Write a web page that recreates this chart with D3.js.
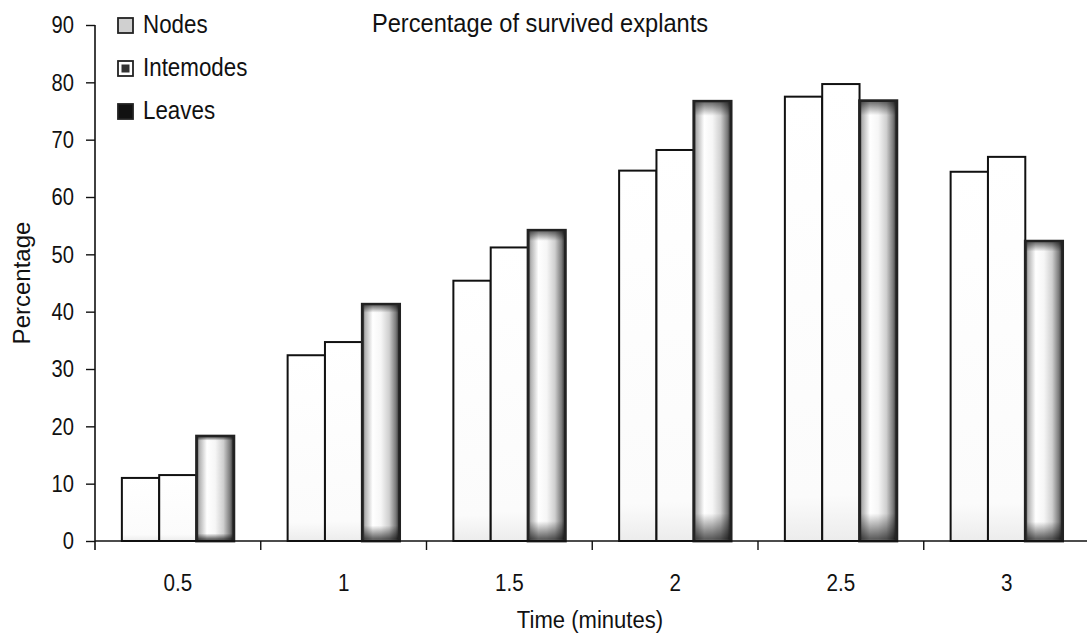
<!DOCTYPE html>
<html>
<head>
<meta charset="utf-8">
<script src="https://cdn.jsdelivr.net/npm/d3@7"></script>
<style>
  html, body { margin: 0; padding: 0; background: #fff; }
  svg { display: block; }
  text { font-family: "Liberation Sans", Arial, sans-serif; fill: #111; }
</style>
</head>
<body>
<svg id="chart" width="1087" height="638"></svg>
<script>
// ---- data ----
const categories = ["0.5", "1", "1.5", "2", "2.5", "3"];
const seriesNames = ["Nodes", "Internodes", "Leaves"];
const nodes      = [11.0, 32.4, 45.4, 64.6, 77.5, 64.4];
const internodes = [11.5, 34.7, 51.2, 68.2, 79.7, 67.0];
const leaves     = [18.3, 41.3, 54.2, 76.7, 76.8, 52.3];
const yTicks = [0, 10, 20, 30, 40, 50, 60, 70, 80, 90];
const titleText = "Percentage of survived explants";
const xTitle = "Time (minutes)";
const yTitle = "Percentage";
const legendLabels = ["Nodes", "Intemodes", "Leaves"];

const seriesValues = [nodes, internodes, leaves];

// ---- layout ----
const W = 1087, H = 638;
const mLeft = 95, mRight = 1089.5, mTop = 25, mBottom = 541;
const svg = d3.select("#chart");

const defs = svg.append("defs");
const gLeaf = defs.append("linearGradient").attr("id", "leafGrad").attr("x1", "0").attr("x2", "1").attr("y1", "0").attr("y2", "0");
[[0, "#333"], [0.07, "#b0b0b0"], [0.28, "#ffffff"], [0.5, "#f6f6f6"], [0.72, "#cfcfcf"], [0.9, "#7a7a7a"], [1, "#262626"]]
  .forEach(([o, c]) => gLeaf.append("stop").attr("offset", o).attr("stop-color", c));
const gLeafV = defs.append("linearGradient").attr("id", "leafGradV").attr("x1", "0").attr("x2", "0").attr("y1", "0").attr("y2", "1");
[[0, "#000", 0.55], [0.03, "#000", 0], [0.94, "#000", 0], [1, "#000", 0.65]]
  .forEach(([o, c, a]) => gLeafV.append("stop").attr("offset", o).attr("stop-color", c).attr("stop-opacity", a));
const gNode = defs.append("linearGradient").attr("id", "nodeGrad").attr("x1", "0").attr("x2", "0").attr("y1", "0").attr("y2", "1");
[[0, "#ffffff"], [0.9, "#fbfbfb"], [1, "#ececec"]]
  .forEach(([o, c]) => gNode.append("stop").attr("offset", o).attr("stop-color", c));

const x = d3.scaleBand().domain(categories).range([mLeft, mRight]).paddingInner(0).paddingOuter(0);
const xs = d3.scaleBand().domain(seriesNames).range([0, x.bandwidth()]).paddingInner(0).paddingOuter(0.72);
const y = d3.scaleLinear().domain([0, 90]).range([mBottom, mTop]);

const fills = { "Nodes": "url(#nodeGrad)", "Internodes": "url(#nodeGrad)", "Leaves": "url(#leafGrad)" };

// bars
const groups = svg.append("g").selectAll("g").data(categories).join("g")
  .attr("transform", d => `translate(${x(d)},0)`);

groups.each(function(cat, ci) {
  const g = d3.select(this);
  seriesNames.forEach((s, si) => {
    const v = seriesValues[si][ci];
    const bx = xs(s), bw = xs.bandwidth();
    const by = y(v), bh = y(0) - y(v);
    g.append("rect")
      .attr("x", bx).attr("y", by).attr("width", bw).attr("height", bh)
      .attr("fill", fills[s])
      .attr("stroke", s === "Leaves" ? "#222" : "#111")
      .attr("stroke-width", s === "Leaves" ? 2.8 : 2);
    if (s === "Leaves") {
      g.append("rect")
        .attr("x", bx + 1.4).attr("y", by + 1.4).attr("width", bw - 2.8).attr("height", Math.max(0, bh - 2.8))
        .attr("fill", "url(#leafGradV)");
    }
  });
});

// y axis
const ySx = 0.84;
const yAxis = d3.axisLeft(y).tickValues(yTicks).tickSize(9).tickPadding(12).tickSizeOuter(0);
const ya = svg.append("g").attr("transform", `translate(${mLeft},0)`).call(yAxis);
ya.select(".domain").attr("stroke", "#111").attr("stroke-width", 1.6).attr("d", `M0,${mTop}V${mBottom + 9}`);
ya.selectAll(".tick line").attr("stroke", "#111").attr("stroke-width", 1.4);
ya.selectAll(".tick text").attr("font-size", 24).style("font-family", "'Liberation Sans',Arial,sans-serif").attr("fill", "#111")
  .attr("x", -21 / ySx).attr("transform", `scale(${ySx},1)`);

// x axis
const xSx = 0.86;
const xAxis = d3.axisBottom(x).tickSize(0).tickPadding(33).tickSizeOuter(0);
const xa = svg.append("g").attr("transform", `translate(0,${mBottom})`).call(xAxis);
xa.select(".domain").attr("stroke", "#111").attr("stroke-width", 1.6).attr("d", `M${mLeft},0H${W}`);
xa.selectAll(".tick text").attr("font-size", 24).style("font-family", "'Liberation Sans',Arial,sans-serif").attr("fill", "#111")
  .attr("transform", `scale(${xSx},1)`);
// boundary ticks
xa.append("g").selectAll("line").data(categories.slice(1)).join("line")
  .attr("x1", d => x(d)).attr("x2", d => x(d)).attr("y1", 0).attr("y2", 9)
  .attr("stroke", "#111").attr("stroke-width", 1.4);

// titles
svg.append("text").attr("transform", "translate(540,32) scale(0.945,1)").attr("text-anchor", "middle").attr("font-size", 25).text(titleText);
svg.append("text").attr("transform", "translate(590,628) scale(0.92,1)").attr("text-anchor", "middle").attr("font-size", 24).text(xTitle);
svg.append("text").attr("transform", "translate(30,283) rotate(-90)").attr("text-anchor", "middle").attr("font-size", 24).text(yTitle);

// legend
const legFills = ["#d0d0d0", "#fff", "#111"];
const leg = svg.append("g");
legendLabels.forEach((lab, i) => {
  const cy = 25.5 + i * 43;
  leg.append("rect").attr("x", 118).attr("y", cy - 7.5).attr("width", 15).attr("height", 15)
    .attr("fill", legFills[i]).attr("stroke", "#222").attr("stroke-width", 1.8);
  if (i === 1) leg.append("rect").attr("x", 121.5).attr("y", cy - 4).attr("width", 8).attr("height", 8).attr("fill", "#333");
  leg.append("text").attr("transform", `translate(143,${cy + 7}) scale(0.86,1)`).attr("font-size", 26).text(lab);
});
</script>
</body>
</html>
